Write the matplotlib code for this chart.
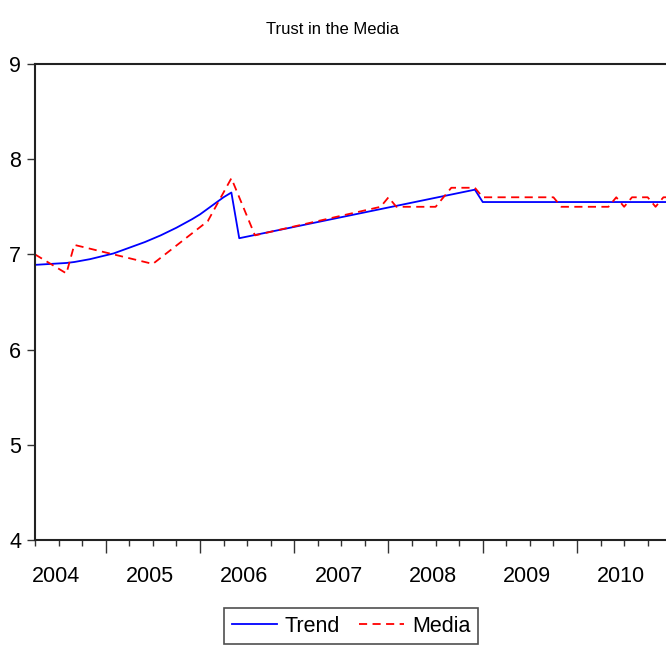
"""
plot.py - Trust in the Media (trend vs. media series)
"""
import numpy as np
import matplotlib
matplotlib.use("Agg")
import matplotlib.pyplot as plt
from matplotlib.ticker import FixedLocator, NullFormatter

plt.rcParams['font.family'] = ['Liberation Sans', 'DejaVu Sans']

# monthly observations, first one is April 2004
start_year = 2004.25
trend_months = list(range(0, 27)) + [56, 57, 81]
trend_values = [6.89, 6.895, 6.90, 6.905, 6.91, 6.92, 6.935, 6.95, 6.97, 6.99,
                7.01, 7.04, 7.07, 7.10, 7.13, 7.165, 7.20, 7.24, 7.28, 7.325,
                7.37, 7.42, 7.48, 7.54, 7.60, 7.65, 7.17, 7.68, 7.55, 7.55]

media_months = [0, 4, 5, 15, 22, 25, 28, 44, 45, 46, 51, 53, 56, 57, 66, 67,
                73, 74, 75, 76, 78, 79, 80, 81]
media_values = [7.0, 6.8, 7.1, 6.9, 7.35, 7.8, 7.2, 7.5, 7.6, 7.5, 7.5, 7.7,
                7.7, 7.6, 7.6, 7.5, 7.5, 7.6, 7.5, 7.6, 7.6, 7.5, 7.6, 7.6]

years = [2004, 2005, 2006, 2007, 2008, 2009, 2010]
yticks = [4, 5, 6, 7, 8, 9]

trend_x = start_year + np.array(trend_months) / 12.0
media_x = start_year + np.array(media_months) / 12.0

fig = plt.figure(figsize=(6.66, 6.46), dpi=100)
ax = fig.add_axes([35/666, 1-540/646, 1.0 - 35/666 + 0.002, (540-64)/646])

ax.plot(trend_x, trend_values, color='#0000ff', lw=1.3, label='Trend')
ax.plot(media_x, media_values, color='#ff0000', lw=1.3, ls=(0, (4.5, 3)), label='Media')

ax.set_xlim(start_year, start_year + 80.5/12)
ax.set_ylim(4, 9)

# year boundaries as major ticks, quarters as minor, labels centred in the year
ax.xaxis.set_major_locator(FixedLocator(years[1:]))
ax.xaxis.set_minor_locator(FixedLocator(np.arange(2004.25, 2011, 0.25)))
ax.xaxis.set_major_formatter(NullFormatter())
ax.tick_params(axis='x', which='major', length=9.5, width=1, direction='out', color='#333333')
ax.tick_params(axis='x', which='minor', length=4.5, width=1, direction='out', color='#333333')
for yr in years:
    ax.text(yr + 0.47, -0.055, str(yr), transform=ax.get_xaxis_transform(),
            ha='center', va='top', fontsize=15.5)

ax.set_yticks(yticks)
ax.tick_params(axis='y', length=6, width=1, pad=4, labelsize=15.5, color='#333333')

for side in ['left', 'top', 'bottom', 'right']:
    ax.spines[side].set_linewidth(1.5)
    ax.spines[side].set_color('#222222')

fig.text(0.5, 1-30/646, 'Trust in the Media', ha='center', va='center', fontsize=12)

leg = fig.legend(loc='center', bbox_to_anchor=(351/666, 1-626/646), ncol=2,
                 fontsize=15.5, frameon=True, fancybox=False, handlelength=2.1,
                 handletextpad=0.35, columnspacing=0.9, borderpad=0.35)
leg.get_frame().set_edgecolor('#222222')
leg.get_frame().set_linewidth(1.2)

fig.savefig('out.png', dpi=100)
